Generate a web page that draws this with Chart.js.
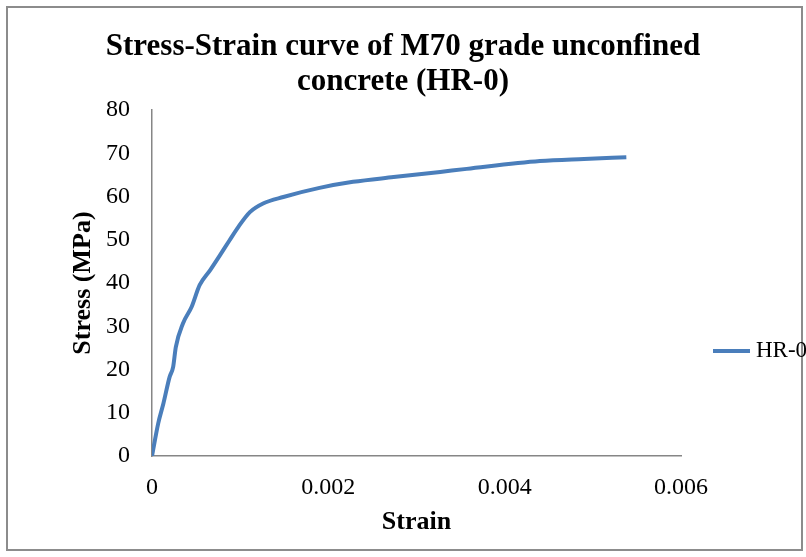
<!DOCTYPE html>
<html>
<head>
<meta charset="utf-8">
<script src="https://cdn.jsdelivr.net/npm/chart.js@4.4.1/dist/chart.umd.min.js"></script>
<style>
  html, body { margin: 0; padding: 0; background: #fff; }
  #wrap { width: 806px; height: 557px; }
</style>
</head>
<body>
<div id="wrap"><canvas id="c"></canvas></div>
<script>
// values
const strain = [0, 0.00007, 0.00013, 0.0002, 0.00024, 0.00027, 0.00035, 0.00045, 0.00054,
                0.00066, 0.00077, 0.00088, 0.00098, 0.00111, 0.00126, 0.00149, 0.0019,
                0.00228, 0.00274, 0.00327, 0.00357, 0.0044, 0.0049, 0.00538];
const stress = [0, 7.5, 12.2, 18.3, 20.6, 25.2, 30.6, 34.5, 39.5,
                43, 46.4, 49.9, 53, 56.4, 58.4, 59.9, 62,
                63.4, 64.5, 65.7, 66.4, 68.2, 68.7, 69.1];
const seriesName = 'HR-0';
const xTicks = [0, 0.002, 0.004, 0.006];
const yTicks = [0, 10, 20, 30, 40, 50, 60, 70, 80];

const SERIF = '"Liberation Serif", "Times New Roman", serif';
const AXIS_GREY = '#868686';
const LINE_BLUE = '#4A7EBB';

// outer frame like the Excel chart area
const framePlugin = {
    id: 'frame',
    afterDraw(chart) {
        const ctx = chart.ctx;
        ctx.save();
        ctx.strokeStyle = '#8c8c8c';
        ctx.lineWidth = 2;
        ctx.strokeRect(7, 7, 795, 543);
        ctx.restore();
    }
};

// legend on the right, a line sample plus the series name
const sideLegend = {
    id: 'sideLegend',
    afterDraw(chart) {
        const ctx = chart.ctx;
        const ds = chart.data.datasets[0];
        const y = 351;
        ctx.save();
        ctx.strokeStyle = ds.borderColor;
        ctx.lineWidth = 4;
        ctx.beginPath();
        ctx.moveTo(713, y);
        ctx.lineTo(750, y);
        ctx.stroke();
        ctx.fillStyle = '#000';
        ctx.font = '23px ' + SERIF;
        ctx.textBaseline = 'middle';
        ctx.fillText(ds.label, 756, y);
        ctx.restore();
    }
};

const data = strain.map((s, i) => ({ x: s, y: stress[i] }));

new Chart(document.getElementById('c'), {
    type: 'scatter',
    data: {
        datasets: [{
            label: seriesName,
            data: data,
            showLine: true,
            borderColor: LINE_BLUE,
            backgroundColor: LINE_BLUE,
            borderWidth: 4,
            pointRadius: 0,
            cubicInterpolationMode: 'monotone',
        }]
    },
    options: {
        responsive: true,
        maintainAspectRatio: false,
        animation: false,
        layout: { padding: 0 },
        plugins: {
            legend: { display: false },
            tooltip: { enabled: false },
            title: {
                display: true,
                text: ['Stress-Strain curve of M70 grade unconfined', 'concrete (HR-0)'],
                color: '#000',
                font: { family: SERIF, size: 31, weight: 'bold', lineHeight: 1.13 },
                padding: { top: 29, bottom: 11 },
            },
        },
        scales: {
            x: {
                type: 'linear',
                min: 0,
                max: 0.006,
                afterBuildTicks(scale) { scale.ticks = xTicks.map(v => ({ value: v })); },
                afterFit(scale) { scale.height = 101; },
                grid: { drawOnChartArea: false, drawTicks: false },
                border: { display: true, color: AXIS_GREY, width: 1.5 },
                ticks: {
                    color: '#000',
                    padding: 17,
                    font: { family: SERIF, size: 24 },
                    callback: v => String(Number(v.toFixed(3))),
                },
                title: {
                    display: true,
                    text: 'Strain',
                    color: '#000',
                    font: { family: SERIF, size: 26, weight: 'bold' },
                    padding: { bottom: 19 },
                },
            },
            y: {
                type: 'linear',
                min: 0,
                max: 80,
                afterBuildTicks(scale) { scale.ticks = yTicks.map(v => ({ value: v })); },
                afterFit(scale) { scale.width = 152; },
                grid: { drawOnChartArea: false, drawTicks: false },
                border: { display: true, color: AXIS_GREY, width: 1.5 },
                ticks: {
                    color: '#000',
                    padding: 22,
                    font: { family: SERIF, size: 24 },
                },
                title: {
                    display: true,
                    text: 'Stress (MPa)',
                    color: '#000',
                    font: { family: SERIF, size: 26, weight: 'bold' },
                    padding: { top: 68 },
                },
            },
            // empty right-hand axis that only reserves room for the legend
            yRight: {
                type: 'linear',
                position: 'right',
                min: 0,
                max: 80,
                afterFit(scale) { scale.width = 125; },
                grid: { display: false },
                border: { display: false },
                ticks: { display: false },
            },
        },
    },
    plugins: [framePlugin, sideLegend],
});
</script>
</body>
</html>
